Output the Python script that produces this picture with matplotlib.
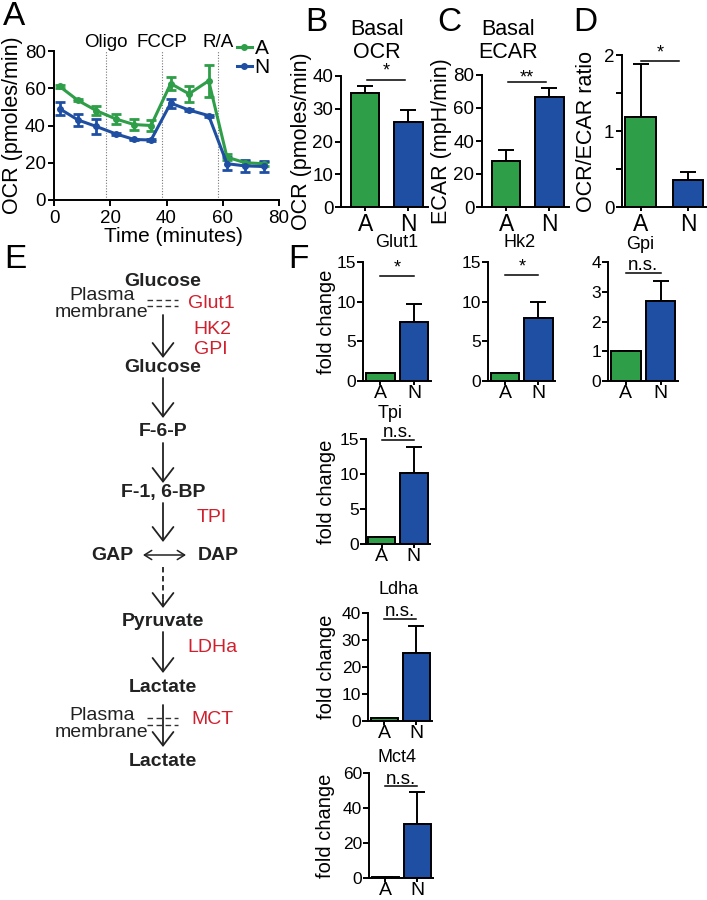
import matplotlib
matplotlib.use("Agg")
import matplotlib.pyplot as plt
from matplotlib.lines import Line2D
import numpy as np

plt.rcParams['font.family'] = ['Liberation Sans', 'DejaVu Sans']

W, H = 707, 900
GREEN = '#2E9E48'
BLUE = '#1F4FA3'
RED = '#D0202E'

# ---------------- data ----------------
time_min = [2, 8.5, 15, 22, 28.5, 34.5, 41.5, 48, 55, 61.5, 68, 74.5]
ocr_A = [61, 53.5, 48, 43.5, 40.5, 40, 62.5, 57, 64, 23, 20, 19.5]
ocr_A_err = [1, 0.5, 2.4, 2.7, 3, 3, 3.4, 4.3, 8.5, 1.5, 1, 1]
ocr_N = [49, 43, 39.5, 35.5, 32.5, 32.2, 52, 48.3, 45.3, 19.5, 18.3, 18]
ocr_N_err = [3.6, 3, 4, 0.5, 0.5, 0.5, 2.4, 0.5, 0.5, 3.6, 3.3, 3]
injections = [18.5, 38.3, 58.2]
injection_labels = ['Oligo', 'FCCP', 'R/A']

groups = ['A', 'N']
basal_ocr = [34.7, 26.0]
basal_ocr_err = [2.2, 3.6]
basal_ecar = [27.6, 66.9]
basal_ecar_err = [6.8, 5.5]
ocr_ecar_ratio = [1.18, 0.355]
ocr_ecar_ratio_err = [0.70, 0.105]

glut1 = [1.0, 7.4]
glut1_err = [0.0, 2.3]
hk2 = [1.0, 7.9]
hk2_err = [0.0, 2.1]
gpi = [1.0, 2.68]
gpi_err = [0.0, 0.69]
tpi = [1.0, 10.1]
tpi_err = [0.0, 3.8]
ldha = [1.0, 25.2]
ldha_err = [0.0, 10.0]
mct4 = [0.8, 30.8]
mct4_err = [0.0, 18.3]

fig = plt.figure(figsize=(W / 100, H / 100), dpi=100)


def px_axes(l, t, r, b):
    return fig.add_axes([l / W, 1 - b / H, (r - l) / W, (b - t) / H])


def ftext(x, y, s, **kw):
    return fig.text(x / W, 1 - y / H, s, **kw)


def style_axes(ax, lw=1.4):
    for s in ['top', 'right']:
        ax.spines[s].set_visible(False)
    for s in ['left', 'bottom']:
        ax.spines[s].set_linewidth(lw)
    ax.tick_params(direction='out', width=lw, length=4)


# ---------------- panel A ----------------
axA = px_axes(54, 51, 279, 200)
style_axes(axA)
for xv in injections:
    axA.axvline(xv, color='#777777', lw=0.8, ls=(0, (1, 1.5)), zorder=0)
axA.errorbar(time_min, ocr_A, yerr=ocr_A_err, color=GREEN, lw=2.2, marker='o', ms=4,
             capsize=3.5, capthick=2, elinewidth=2, zorder=3)
axA.errorbar(time_min, ocr_N, yerr=ocr_N_err, color=BLUE, lw=2.2, marker='o', ms=4,
             capsize=3.5, capthick=2, elinewidth=2, zorder=3)
axA.set_xlim(0, 80)
axA.set_ylim(0, 80)
axA.set_xticks([0, 20, 40, 60, 80])
axA.set_yticks([0, 20, 40, 60, 80])
axA.tick_params(labelsize=13.5)
axA.tick_params(axis='y', pad=2)
axA.set_ylabel('OCR (pmoles/min)', fontsize=15.5, va='center')
axA.yaxis.set_label_coords((13 - 54) / 225, 0.5)
axA.set_xlabel('Time (minutes)', fontsize=15, va='center')
axA.xaxis.set_label_coords(0.53, -(237 - 200) / 149)
for xv, lab in zip(injections, injection_labels):
    axA.text(xv, 84.5, lab, ha='center', va='center', fontsize=13.5, clip_on=False)
handles = [Line2D([0], [0], color=GREEN, lw=2.2, marker='o', ms=4),
           Line2D([0], [0], color=BLUE, lw=2.2, marker='o', ms=4)]
fig.legend(handles, groups, loc='upper left', bbox_to_anchor=(237 / W, 1 - 39 / H),
           frameon=False, fontsize=15, handlelength=0.7, handletextpad=0.15,
           labelspacing=0.0, borderpad=0, borderaxespad=0)


# ---------------- bar helper ----------------
def bar_panel(ax, vals, errs, ylim, yticks, width, tick_fs, xtick_fs, cap=6, lw=1.4):
    style_axes(ax, lw)
    x = np.arange(len(groups))
    ax.bar(x, vals, width=width, color=[GREEN, BLUE], edgecolor='black', linewidth=lw, zorder=2)
    ax.errorbar(x, vals, yerr=[np.zeros(len(errs)), errs], fmt='none', ecolor='black',
                elinewidth=lw, capsize=cap, capthick=lw, zorder=1)
    ax.set_ylim(*ylim)
    ax.set_yticks(yticks)
    ax.set_xticks(x)
    ax.set_xticklabels(groups, fontsize=xtick_fs)
    ax.tick_params(axis='y', labelsize=tick_fs, pad=1.5)
    ax.tick_params(axis='x', length=3, pad=1)


def sig(ax, y, text, fs, x0=0.0, x1=1.0, off=0.0):
    ax.plot([x0, x1], [y, y], color='black', lw=1.1, clip_on=False)
    ax.text((x0 + x1) / 2, y + off, text, ha='center', va='bottom', fontsize=fs, clip_on=False)


# ---------------- panel B ----------------
axB = px_axes(341, 76, 428, 207)
bar_panel(axB, basal_ocr, basal_ocr_err, (0, 40), [0, 10, 20, 30, 40], 0.65, 13.5, 16.5, cap=6)
axB.set_xlim(-0.555, 1.45)
axB.set_ylabel('OCR (pmoles/min)', fontsize=15.5, va='center')
axB.yaxis.set_label_coords((302 - 341) / 87, 0.5)
sig(axB, 38.8, '*', 13, 0.05, 0.92)
ftext(377, 41, 'Basal\nOCR', ha='center', va='center', fontsize=15.5, linespacing=1.15)

# ---------------- panel C ----------------
axC = px_axes(482, 75, 569, 207)
bar_panel(axC, basal_ecar, basal_ecar_err, (0, 80), [0, 20, 40, 60, 80], 0.65, 13.5, 16.5, cap=6)
axC.set_xlim(-0.555, 1.45)
axC.set_ylabel('ECAR (mpH/min)', fontsize=15.5, va='center')
axC.yaxis.set_label_coords((442 - 482) / 87, 0.5)
sig(axC, 75.8, '**', 13, 0.05, 0.92, off=-3)
ftext(508, 41, 'Basal\nECAR', ha='center', va='center', fontsize=15.5, linespacing=1.15)

# ---------------- panel D ----------------
axD = px_axes(622, 55, 707, 207)
bar_panel(axD, ocr_ecar_ratio, ocr_ecar_ratio_err, (0, 2), [0, 1, 2], 0.65, 13.5, 16.5, cap=6)
axD.set_yticks([0.5, 1.5], minor=True)
axD.tick_params(axis='y', which='minor', length=4, width=1.4)
axD.set_xlim(-0.39, 1.4)
axD.set_ylabel('OCR/ECAR ratio', fontsize=15.5, va='center')
axD.yaxis.set_label_coords((587 - 622) / 85, 0.5)
sig(axD, 1.92, '*', 13, 0.0, 0.82, off=0.0)

# ---------------- panel F ----------------
f_specs = [
    ('Glut1', glut1, glut1_err, (363, 262, 431, 381), (-0.51, 1.5), (0, 15), [0, 5, 10, 15], 13.2, '*', (397, 242), 326, True),
    ('Hk2', hk2, hk2_err, (488, 262, 555, 381), (-0.52, 1.5), (0, 15), [0, 5, 10, 15], 13.3, '*', (520, 242), None, False),
    ('Gpi', gpi, gpi_err, (608, 262, 678, 381), (-0.51, 1.5), (0, 4), [0, 1, 2, 3, 4], 3.63, 'n.s.', (640, 245), None, False),
    ('Tpi', tpi, tpi_err, (366, 439, 430, 544), (-0.49, 1.5), (0, 15), [0, 5, 10, 15], 14.9, 'n.s.', (390, 413), 326, True),
    ('Ldha', ldha, ldha_err, (368, 613, 432, 721), (-0.52, 1.5), (0, 40), [0, 10, 20, 30, 40], 37.8, 'n.s.', (399, 590), 326, True),
    ('Mct4', mct4, mct4_err, (369, 773, 433, 878), (-0.52, 1.5), (0, 60), [0, 20, 40, 60], 52.3, 'n.s.', (397, 757), 326, True),
]
for name, vals, errs, box, xl, yl, yt, sy, st, tpos, ylx, has_ylab in f_specs:
    l, t, r, b = box
    ax = px_axes(l, t, r, b)
    bar_panel(ax, vals, errs, yl, yt, 0.85, 12.5, 14, cap=6)
    ax.tick_params(axis='x', pad=0)
    ax.tick_params(axis='y', pad=1)
    ax.set_xlim(*xl)
    if has_ylab:
        ax.set_ylabel('fold change', fontsize=14.5, va='center')
        ax.yaxis.set_label_coords((ylx - l) / (r - l), 0.5)
    if st == '*':
        sig(ax, sy, st, 13, 0.0, 1.0, off=0)
    else:
        sig(ax, sy, st, 13.5, 0.0, 1.0, off=-0.01 * yl[1])
    ftext(tpos[0], tpos[1], name, ha='center', va='center', fontsize=13)

# ---------------- panel E (pathway diagram) ----------------
axE = fig.add_axes([0, 0, 300 / W, 630 / H])
axE.set_xlim(0, 300)
axE.set_ylim(900, 270)
axE.axis('off')

CX = 163
FS = 14
bold_kw = dict(ha='center', va='center', fontsize=FS, fontweight='bold', color='#222222')
red_kw = dict(ha='center', va='center', fontsize=FS, color=RED)
norm_kw = dict(ha='center', va='center', fontsize=FS, color='#222222', linespacing=0.95)

for label, y in [('Glucose', 282), ('Glucose', 367), ('F-6-P', 432), ('F-1, 6-BP', 493),
                 ('Pyruvate', 622), ('Lactate', 687), ('Lactate', 762)]:
    axE.text(CX, y, label, **bold_kw)
axE.text(112, 555, 'GAP', **bold_kw)
axE.text(218, 555, 'DAP', **bold_kw)

axE.text(102, 304, 'Plasma\nmembrane', **norm_kw)
axE.text(102, 724, 'Plasma\nmembrane', **norm_kw)

axE.text(188, 304, 'Glut1', ha='left', va='center', fontsize=FS, color=RED)
axE.text(212, 330, 'HK2', **red_kw)
axE.text(211, 350, 'GPI', **red_kw)
axE.text(212, 518, 'TPI', **red_kw)
axE.text(212, 648, 'LDHa', **red_kw)
axE.text(212, 720, 'MCT', **red_kw)

arrow_kw = dict(arrowstyle='->,head_length=0.65,head_width=0.5', color='#222222', lw=1.3,
                mutation_scale=15, shrinkA=0, shrinkB=0)
for y0, y1 in [(315, 358), (378, 418), (443, 483), (503, 542), (632, 673), (705, 747)]:
    axE.annotate('', xy=(CX, y1), xytext=(CX, y0), arrowprops=arrow_kw)

# dashed arrow
axE.plot([CX, CX], [567, 604], color='#222222', lw=1.3, ls=(0, (3, 2)))
axE.annotate('', xy=(CX, 608), xytext=(CX, 600), arrowprops=arrow_kw)

# double arrow GAP <-> DAP
axE.annotate('', xy=(186, 555), xytext=(143, 555),
             arrowprops=dict(arrowstyle='<->,head_length=0.35,head_width=0.22', color='#222222',
                             lw=1.1, mutation_scale=15, shrinkA=0, shrinkB=0))

# membrane symbols
for ym in (300, 306, 718, 725):
    axE.plot([147, 178], [ym, ym], color='#333333', lw=1.0, ls=(0, (4, 2.5)))

# ---------------- panel letters ----------------
for letter, x, y in [('A', 3, 1), ('B', 305, 7), ('C', 437, 7), ('D', 573, 7), ('E', 4, 244), ('F', 288, 244)]:
    ftext(x, y, letter, ha='left', va='top', fontsize=24)

fig.savefig('out.png', dpi=100)
